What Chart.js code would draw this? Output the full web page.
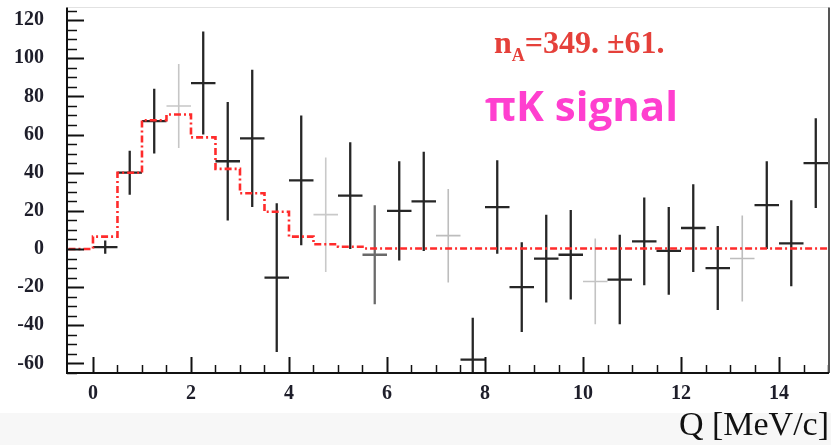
<!DOCTYPE html>
<html><head><meta charset="utf-8">
<script src="https://cdn.jsdelivr.net/npm/chart.js@4"></script>
<style>html,body{margin:0;padding:0;background:#fff;}#wrap{width:831px;height:445px;}</style>
</head><body><div id="wrap"><canvas id="c" width="831" height="445"></canvas></div>
<script>
// ---- data ----
const binCenters = [0.25,0.75,1.25,1.75,2.25,2.75,3.25,3.75,4.25,4.75,5.25,5.75,6.25,6.75,7.25,7.75,8.25,8.75,9.25,9.75,10.25,10.75,11.25,11.75,12.25,12.75,13.25,13.75,14.25,14.75];
const counts = [1,40,67,75,87,46,58,-15,36,18,28,-3,20,25,7,-58,22,-20,-5,-3,-17,-16,4,-1,11,-10,-5,23,3,45];
const errors = [3.5,11.5,17,22,27,31,36,39,34,30,28,26,26,26,24.5,22,24.5,23.5,23,23.5,22.5,23.5,23,23,23,22,22.5,23,22.5,23.5];
const fitEdges = [-0.5,0,0.5,1,1.5,2,2.5,3,3.5,4,4.5,5,5.5,15];
const fitValues = [0,6.5,40,67.5,70.5,58.5,42,29.2,19.5,6.5,2.5,1.2,0.3];
const yTickValues = [-60,-40,-20,0,20,40,60,80,100,120];
const xTickValues = [0,2,4,6,8,10,12,14];
const xTitle = 'Q [MeV/c]';
const fitLabel = ['n', 'A', '=349. ±61.'];
const signalLabel = 'πK signal';

// ---- styles ----
const faintBars = {3:'#c6c6c6', 9:'#c9c9c9', 11:'#6a6a6a', 14:'#bdbdbd', 20:'#c3c3c3', 26:'#bdbdbd'};

const fitData = fitValues.map((v,i)=>({x:fitEdges[i], y:v}));
fitData.push({x:fitEdges[fitEdges.length-1], y:fitValues[fitValues.length-1]});
const pointData = binCenters.map((c,i)=>({x:c, y:counts[i], err:errors[i]}));
const halfBin = 0.25;

const bgPlugin = {
  id:'bg',
  beforeDraw(chart){
    const ctx = chart.ctx;
    ctx.save();
    ctx.fillStyle = '#ffffff';
    ctx.fillRect(0,0,chart.width,chart.height);
    ctx.fillStyle = '#f7f7f7';
    ctx.fillRect(0,413,chart.width,chart.height-413);
    ctx.restore();
  }
};

const errPlugin = {
  id:'errbars',
  beforeDatasetsDraw(chart){
    const {ctx, chartArea:a, scales:{x, y}} = chart;
    const ds = chart.data.datasets[1].data;
    ctx.save();
    ctx.beginPath(); ctx.rect(a.left, a.top, a.right-a.left, a.bottom-a.top); ctx.clip();
    ds.forEach((p,i)=>{
      const col = faintBars[i] || '#262626';
      ctx.strokeStyle = col;
      ctx.lineWidth = faintBars[i] && col !== '#6a6a6a' ? 1.6 : 2.3;
      const px = x.getPixelForValue(p.x);
      ctx.beginPath();
      ctx.moveTo(px, y.getPixelForValue(p.y + p.err));
      ctx.lineTo(px, y.getPixelForValue(p.y - p.err));
      ctx.moveTo(x.getPixelForValue(p.x - halfBin), y.getPixelForValue(p.y));
      ctx.lineTo(x.getPixelForValue(p.x + halfBin), y.getPixelForValue(p.y));
      ctx.stroke();
    });
    ctx.restore();
  }
};

const framePlugin = {
  id:'frame',
  afterDraw(chart){
    const {ctx, chartArea:a, scales:{x, y}} = chart;
    ctx.save();
    // ticks
    ctx.strokeStyle = '#111';
    for (let v = -65; v <= 126; v += 1) {
      if (v % 5 !== 0) continue;
      const py = Math.round(y.getPixelForValue(v)) + 0.5;
      const major = v % 20 === 0;
      ctx.lineWidth = major ? 2 : 1.5;
      ctx.beginPath(); ctx.moveTo(a.left, py); ctx.lineTo(a.left + (major ? 17 : 10), py); ctx.stroke();
    }
    for (let k = 0; k <= 30; k++) {
      const v = k * 0.5;
      const px = Math.round(x.getPixelForValue(v)) + 0.5;
      const major = k % 4 === 0;
      ctx.lineWidth = major ? 2 : 1.5;
      ctx.beginPath(); ctx.moveTo(px, a.bottom); ctx.lineTo(px, a.bottom - (major ? 16 : 8)); ctx.stroke();
    }
    // frame
    ctx.lineWidth = 1;
    ctx.strokeStyle = '#e2e2e2';
    ctx.beginPath(); ctx.moveTo(a.left, a.top); ctx.lineTo(a.right, a.top); ctx.stroke();
    ctx.lineWidth = 2;
    ctx.strokeStyle = '#555';
    ctx.beginPath(); ctx.moveTo(a.right, a.top); ctx.lineTo(a.right, a.bottom); ctx.stroke();
    ctx.strokeStyle = '#111';
    ctx.beginPath(); ctx.moveTo(a.left, a.top); ctx.lineTo(a.left, a.bottom); ctx.lineTo(a.right, a.bottom); ctx.stroke();

    // annotations
    ctx.fillStyle = '#e5403a';
    ctx.textBaseline = 'alphabetic';
    ctx.textAlign = 'left';
    let tx = 494, ty = 53;
    ctx.font = 'bold 32px "Liberation Serif"';
    ctx.fillText(fitLabel[0], tx, ty);
    tx += ctx.measureText(fitLabel[0]).width;
    ctx.font = 'bold 18px "Liberation Serif"';
    ctx.fillText(fitLabel[1], tx, ty + 8);
    tx += ctx.measureText(fitLabel[1]).width;
    ctx.font = 'bold 32px "Liberation Serif"';
    ctx.fillText(fitLabel[2], tx, ty);

    ctx.fillStyle = '#ff3fcf';
    ctx.font = 'bold 42px "Open Sans"';
    ctx.fillText(signalLabel, 485, 121);
    ctx.restore();
  }
};

new Chart(document.getElementById('c'), {
  data: {
    datasets: [
      { type:'line', label:'fit', data: fitData, stepped:'before', borderColor:'#ff2b2b', borderWidth:2.6,
        borderDash:[7,3,2,3], pointRadius:0, fill:false, order:0 },
      { type:'scatter', label:'data', data: pointData, pointRadius:0, borderColor:'#262626', order:1 }
    ]
  },
  options: {
    responsive:false, animation:false, devicePixelRatio:1,
    layout:{ padding:{ left:0, right:2, top:7.5, bottom:0 } },
    plugins:{ legend:{display:false}, tooltip:{enabled:false} },
    scales:{
      x:{ type:'linear', min:-0.53, max:15.02,
        grid:{display:false, drawTicks:false}, border:{display:false},
        afterBuildTicks(s){ s.ticks = xTickValues.map(v=>({value:v})); },
        afterFit(s){ s.height = 72; s.paddingLeft = 0; s.paddingRight = 0; },
        ticks:{ padding:9, color:'#1e1e2a', font:{family:'"Liberation Serif"', size:20, weight:'bold'}, maxRotation:0 },
        title:{ display:true, text:xTitle, align:'end', color:'#111',
          font:{family:'"Liberation Serif"', size:34, lineHeight:1}, padding:{top:0, bottom:2} }
      },
      y:{ type:'linear', min:-65, max:126.6,
        grid:{display:false, drawTicks:false}, border:{display:false},
        afterBuildTicks(s){ s.ticks = yTickValues.map(v=>({value:v})); },
        afterFit(s){ s.width = 67; s.paddingTop = 0; s.paddingBottom = 0; },
        ticks:{ padding:23, color:'#1e1e2a', font:{family:'"Liberation Serif"', size:20, weight:'bold'} }
      }
    }
  },
  plugins:[bgPlugin, errPlugin, framePlugin]
});
</script></body></html>
